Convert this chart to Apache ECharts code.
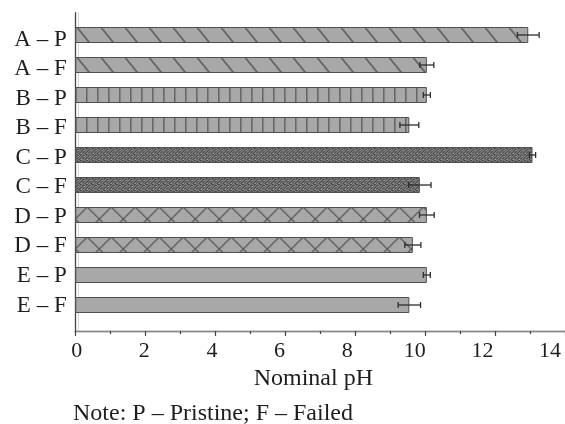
<!DOCTYPE html>
<html><head><meta charset="utf-8">
<script src="https://cdn.jsdelivr.net/npm/echarts@6/dist/echarts.min.js"></script>
<style>html,body{margin:0;padding:0;background:#fff}#c{width:565px;height:424px}</style>
</head><body><div id="c"></div>
<script>
// ---- data ----
const categories = ['A – P','A – F','B – P','B – F','C – P','C – F','D – P','D – F','E – P','E – F'];
const phValues   = [12.95, 10.05, 10.05, 9.55, 13.07, 9.85, 10.05, 9.65, 10.05, 9.55];
const phErrors   = [0.31, 0.20, 0.10, 0.27, 0.09, 0.32, 0.21, 0.23, 0.10, 0.32];
const sampleGroup = ['A','A','B','B','C','C','D','D','E','E'];
const xTickLabels = [0, 2, 4, 6, 8, 10, 12, 14];
const axisTitle = 'Nominal pH';
const noteText = 'Note: P – Pristine; F – Failed';

// ---- style ----
const FONT = '"Liberation Serif","DejaVu Serif",serif';
const TXT = '#1e1e1e';
const GL = 75.3, GT = 20, BAND = 30, BW = 16;
const FILL = '#a8a8a8', LINE = '#4a4a4a';

function tile(w, h, draw) {
  const c = document.createElement('canvas'); c.width = w; c.height = h;
  const g = c.getContext('2d'); draw(g, w, h); return c;
}
function seg(g, x1, y1, x2, y2) { g.moveTo(x1, y1); g.lineTo(x2, y2); }

const patA = tile(24, BAND, (g, w, h) => {
  g.fillStyle = FILL; g.fillRect(0, 0, w, h);
  g.strokeStyle = LINE; g.lineWidth = 1.2; g.beginPath();
  const s = 13 / 16;
  for (let k = -1; k <= 1; k++) { const x0 = k * w + 1.5; seg(g, x0 - 2 * s, -2, x0 + 18 * s, 18); }
  g.stroke();
});
const patB = tile(11, BAND, (g, w, h) => {
  g.fillStyle = FILL; g.fillRect(0, 0, w, h);
  g.strokeStyle = LINE; g.lineWidth = 1.2; g.beginPath();
  seg(g, 0.5, 0, 0.5, h); g.stroke();
});
const patC = tile(6, BAND, (g, w, h) => {
  g.fillStyle = '#4a4a4a'; g.fillRect(0, 0, w, h);
  g.fillStyle = '#9c9c9c';
  const mask = ['101001','010100','100010','001101','010010','100100'];
  for (let y = 0; y < h; y++) for (let x = 0; x < w; x++) if (mask[y % 6][x] === '1') g.fillRect(x, y, 1, 1);
});
const patD = tile(24, BAND, (g, w, h) => {
  g.fillStyle = FILL; g.fillRect(0, 0, w, h);
  g.strokeStyle = LINE; g.lineWidth = 1.1; g.beginPath();
  for (let k = -1; k <= 1; k++) {
    const x0 = k * w + 12;
    seg(g, x0 - 2, -2, x0 + 18, 18);
    seg(g, x0 + 2, -2, x0 - 18, 18);
  }
  g.stroke();
});
const pats = {
  A: {image: patA, repeat: 'repeat', x: GL, y: GT + (BAND - BW) / 2},
  B: {image: patB, repeat: 'repeat', x: GL, y: GT + (BAND - BW) / 2},
  C: {image: patC, repeat: 'repeat', x: GL, y: GT + (BAND - BW) / 2},
  D: {image: patD, repeat: 'repeat', x: GL, y: GT + (BAND - BW) / 2},
  E: FILL
};

const chart = echarts.init(document.getElementById('c'), null, {renderer: 'canvas'});
const xMin = xTickLabels[0], xMax = xTickLabels[xTickLabels.length - 1];
const xStep = xTickLabels[1] - xTickLabels[0];

chart.setOption({
  animation: false,
  backgroundColor: '#fff',
  title: {
    text: noteText, left: 73, top: 401.5, padding: 0,
    textStyle: {fontFamily: FONT, fontSize: 24, fontWeight: 'normal', color: TXT, lineHeight: 24}
  },
  grid: [
    {left: GL, right: 0, top: GT, height: BAND * categories.length},       // bars
    {left: GL, right: 0, top: 12.7, bottom: 93},                              // frame
    {left: 76.7, right: 15, top: 24.7, bottom: 103.7}                         // labels
  ],
  xAxis: [
    {gridIndex: 0, type: 'value', min: xMin, max: xMax, show: false},
    {gridIndex: 1, type: 'value', min: xMin, max: xMax, interval: xStep,
     axisLine: {show: true, lineStyle: {color: '#444', width: 1.3}},
     axisTick: {show: true, inside: false, length: 5, lineStyle: {color: '#444', width: 1.2}},
     minorTick: {show: true, splitNumber: 2, length: 3, lineStyle: {color: '#444', width: 1.2}},
     axisLabel: {show: false}, splitLine: {show: false}},
    {gridIndex: 1, type: 'value', position: 'top', min: xMin, max: xMax,
     axisLine: {show: true, lineStyle: {color: '#8a8a8a', width: 1.2}},
     axisTick: {show: false}, axisLabel: {show: false}, splitLine: {show: false}},
    {gridIndex: 2, type: 'value', min: xMin, max: xMax, interval: xStep, offset: 10.7,
     axisLine: {show: false}, axisTick: {show: false}, splitLine: {show: false},
     axisLabel: {fontFamily: FONT, fontSize: 22, color: TXT, margin: 9},
     name: axisTitle, nameLocation: 'middle', nameGap: 36,
     nameTextStyle: {fontFamily: FONT, fontSize: 24, color: TXT, lineHeight: 24}}
  ],
  yAxis: [
    {gridIndex: 0, type: 'category', inverse: true, data: categories,
     axisLine: {show: false}, axisTick: {show: false}, axisLabel: {show: false}},
    {gridIndex: 1, type: 'value', min: 0, max: 1,
     axisLine: {show: true, lineStyle: {color: '#444', width: 1.3}},
     axisTick: {show: false}, axisLabel: {show: false}, splitLine: {show: false}},
    {gridIndex: 1, type: 'value', position: 'right', offset: -3, min: 0, max: 1,
     axisLine: {show: true, lineStyle: {color: '#d6d6d6', width: 1}},
     axisTick: {show: false}, axisLabel: {show: false}, splitLine: {show: false}},
    {gridIndex: 2, type: 'category', inverse: true, data: categories,
     axisLine: {show: false}, axisTick: {show: false},
     axisLabel: {fontFamily: FONT, fontSize: 23, color: TXT, margin: 10, interval: 0, lineHeight: 23}}
  ],
  series: [
    {
      type: 'bar', xAxisIndex: 0, yAxisIndex: 0, barWidth: BW,
      data: phValues.map((v, i) => ({
        value: v,
        itemStyle: {color: pats[sampleGroup[i]], borderColor: '#505050', borderWidth: 1}
      }))
    },
    {
      type: 'custom', xAxisIndex: 0, yAxisIndex: 0,
      data: phValues.map((v, i) => [v, i, phErrors[i]]),
      encode: {x: 0, y: 1},
      renderItem: function (params, api) {
        const v = api.value(0), i = api.value(1), e = api.value(2);
        const lo = api.coord([v - e, i]), hi = api.coord([v + e, i]);
        const y = lo[1], h = 3;
        const st = {stroke: '#2e2e2e', lineWidth: 1.3};
        return {type: 'group', children: [
          {type: 'line', shape: {x1: lo[0], y1: y, x2: hi[0], y2: y}, style: st},
          {type: 'line', shape: {x1: lo[0], y1: y - h, x2: lo[0], y2: y + h}, style: st},
          {type: 'line', shape: {x1: hi[0], y1: y - h, x2: hi[0], y2: y + h}, style: st}
        ]};
      },
      z: 5
    }
  ]
});
</script></body></html>
